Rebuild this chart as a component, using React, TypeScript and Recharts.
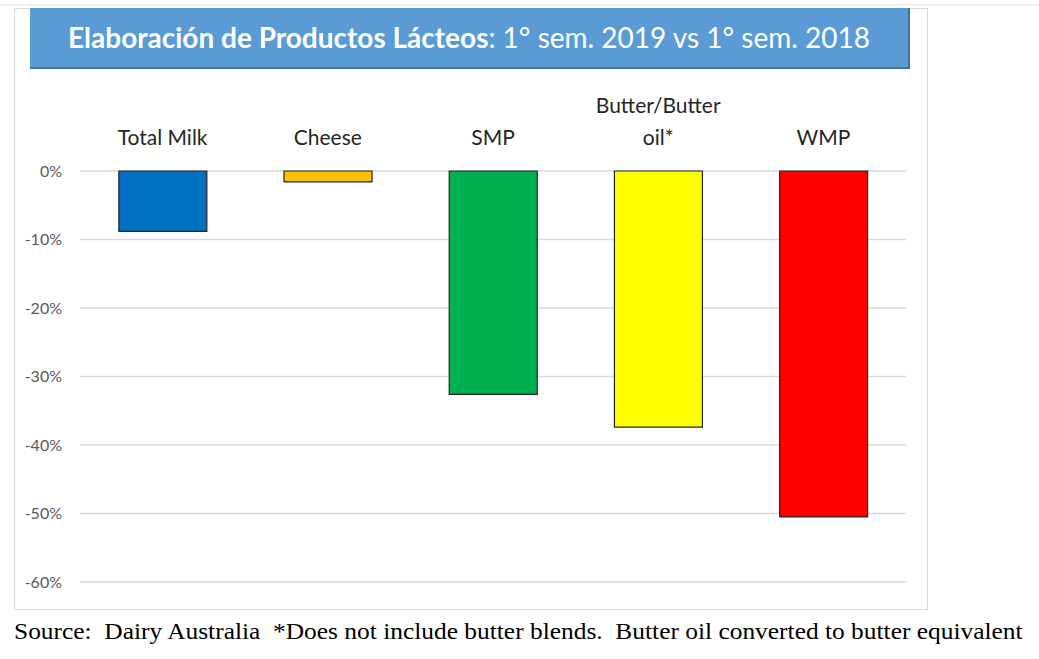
import { BarChart, Bar, Cell, XAxis, YAxis, CartesianGrid } from 'recharts'

const categories = ['Total Milk', 'Cheese', 'SMP', 'Butter/Butter\noil*', 'WMP']
const changes = [-8.8, -1.6, -32.6, -37.4, -50.5]
const yTicks = [0, -10, -20, -30, -40, -50, -60]

const colors = ['#0070C0', '#FFC000', '#00B050', '#FFFF00', '#FF0000']

const data = categories.map((name, i) => ({ name, value: changes[i] }))

const sans = 'Lato, "Liberation Sans", sans-serif'

function CategoryTick(props: any) {
    const { x, y, payload } = props
    const lines = String(payload.value).split('\n')
    return (
        <text x={x} y={y} textAnchor="middle" fontFamily={sans} fontSize={21} fill="#262626">
            {lines.map((line, i) => (
                <tspan key={i} x={x} dy={i === 0 ? -(lines.length - 1) * 32 : 32}>
                    {line}
                </tspan>
            ))}
        </text>
    )
}

export default function App() {
    return (
        <div style={{ position: 'absolute', left: 0, top: 0, width: 1039, height: 659, background: '#fff' }}>
            <div style={{ position: 'absolute', left: 0, top: 4, width: 1039, height: 2, background: '#eeeeee' }} />
            <div style={{ position: 'absolute', left: 14, top: 8, width: 912, height: 600, border: '1px solid #d9d9d9' }} />
            <div
                style={{
                    position: 'absolute',
                    left: 30,
                    top: 8,
                    width: 878,
                    height: 59,
                    background: '#5B9BD5',
                    borderRight: '2px solid #41719C',
                    borderBottom: '2px solid #41719C',
                    color: '#fff',
                    fontFamily: sans,
                    fontSize: 28,
                    lineHeight: '59px',
                    textAlign: 'center',
                    whiteSpace: 'nowrap',
                }}
            >
                <b>Elaboración de Productos Lácteos</b>: 1° sem. 2019 vs 1° sem. 2018
            </div>
            <div style={{ position: 'absolute', left: 14, top: 8 }}>
                <BarChart
                    width={914}
                    height={602}
                    data={data}
                    margin={{ top: 0, right: 22, bottom: 28, left: 0 }}
                    barCategoryGap="23.5%"
                >
                    <CartesianGrid vertical={false} stroke="#d9d9d9" strokeWidth={1.5} />
                    <XAxis
                        dataKey="name"
                        orientation="top"
                        height={163}
                        axisLine={false}
                        tickLine={false}
                        tickSize={0}
                        tickMargin={26}
                        interval={0}
                        tick={<CategoryTick />}
                    />
                    <YAxis
                        type="number"
                        domain={[-60, 0]}
                        ticks={yTicks}
                        width={66}
                        axisLine={false}
                        tickLine={false}
                        tickSize={0}
                        tickMargin={18}
                        tickFormatter={(v) => `${v}%`}
                        tick={{ fontSize: 16, fill: '#595959', fontFamily: sans }}
                    />
                    <Bar dataKey="value" stroke="#262626" strokeWidth={1.2} isAnimationActive={false}>
                        {data.map((entry, index) => (
                            <Cell key={`cell-${index}`} fill={colors[index]} />
                        ))}
                    </Bar>
                </BarChart>
            </div>
            <div
                style={{
                    position: 'absolute',
                    left: 14,
                    top: 619,
                    fontFamily: '"Liberation Serif", serif',
                    fontSize: 23,
                    whiteSpace: 'pre',
                    color: '#000',
                    transform: 'scaleX(1.105)',
                    transformOrigin: 'left top',
                }}
            >
                {'Source:  Dairy Australia  *Does not include butter blends.  Butter oil converted to butter equivalent'}
            </div>
        </div>
    )
}
